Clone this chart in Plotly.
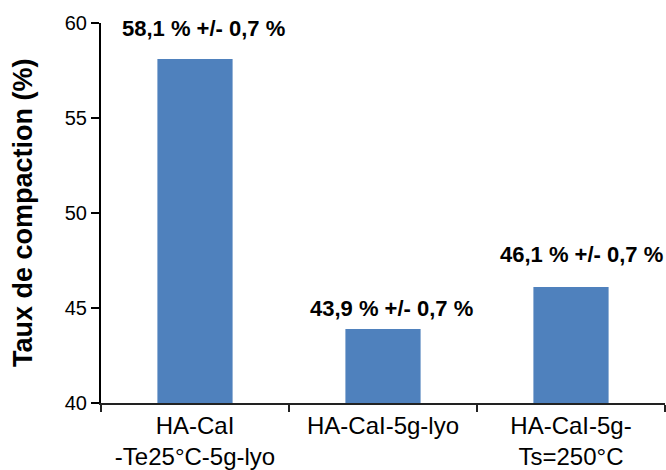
import plotly.graph_objects as go

categories = ["HA-CaI<br>-Te25°C-5g-lyo", "HA-CaI-5g-lyo", "HA-CaI-5g-<br>Ts=250°C"]
values = [58.1, 43.9, 46.1]
errors = [0.7, 0.7, 0.7]
y_ticks = [40, 45, 50, 55, 60]

FONT = "Arial, Liberation Sans, sans-serif"
BAR_COLOR = "#4F81BD"

fig = go.Figure()
fig.add_trace(go.Bar(
    x=categories, y=values, width=0.4,
    marker=dict(color=BAR_COLOR, line=dict(width=0)),
    hoverinfo="skip",
))

label_shift = [(8, 16), (8, 6), (10, 18)]
for cat, v, e, (dx, dy) in zip(categories, values, errors, label_shift):
    txt = f"{v:.1f} % +/- {e:.1f} %".replace(".", ",")
    fig.add_annotation(
        x=cat, y=v, xref="x", yref="y", text=f"<b>{txt}</b>",
        showarrow=False, xanchor="center", yanchor="bottom",
        xshift=dx, yshift=dy,
        font=dict(family=FONT, size=22, color="black"),
    )

fig.add_annotation(
    x=0, y=0.5, xref="paper", yref="paper", xshift=-78,
    text="<b>Taux de compaction (%)</b>", textangle=-90,
    showarrow=False, xanchor="center", yanchor="middle",
    font=dict(family=FONT, size=27, color="black"),
)

fig.update_layout(
    width=666, height=470,
    margin=dict(l=101, r=1, t=23, b=67),
    plot_bgcolor="white", paper_bgcolor="white",
    showlegend=False,
    font=dict(family=FONT, color="black"),
    xaxis=dict(
        type="category", tickson="boundaries", automargin=False,
        ticks="outside", ticklen=7, tickwidth=1.5, tickcolor="#222",
        showline=True, linecolor="#222", linewidth=2,
        showgrid=False, zeroline=False,
        tickfont=dict(family=FONT, size=24, color="black"),
        range=[-0.5, 2.5],
    ),
    yaxis=dict(
        range=[40, 60], tickvals=y_ticks, automargin=False,
        ticks="outside", ticklen=8, tickwidth=1.5, tickcolor="black",
        showline=True, linecolor="black", linewidth=2,
        showgrid=False, zeroline=False,
        tickfont=dict(family=FONT, size=20, color="black"),
    ),
)

fig.write_html(
    "out.html",
    config={"displayModeBar": False},
    post_script="document.body.style.margin='0';document.body.style.overflow='hidden';",
)
